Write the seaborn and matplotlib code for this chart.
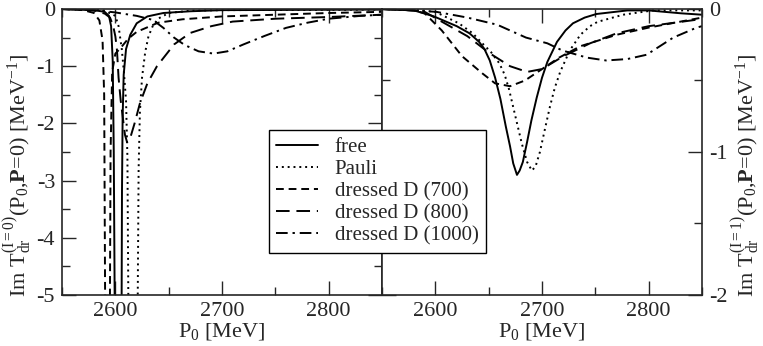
import matplotlib
matplotlib.use("Agg")
import matplotlib.pyplot as plt
from matplotlib.ticker import MultipleLocator
import seaborn as sns

# I=0 panel (left)
free_E0 = [2550, 2570, 2580, 2590, 2594, 2596, 2597.5, 2598.5, 2599.5, 2602, 2605.8, 2606.2, 2606.8, 2607.8, 2610, 2614, 2620, 2630, 2645, 2670, 2700, 2850]
free_0 = [0, -0.01, -0.02, -0.05, -0.12, -0.3, -0.9, -2.5, -5.5, -9, -5.5, -3.2, -1.9, -1.15, -0.7, -0.45, -0.25, -0.13, -0.07, -0.04, -0.02, -0.01]

pauli_E0 = [2550, 2580, 2590, 2600, 2603, 2606, 2608, 2610, 2611.3, 2612.3, 2616.5, 2620.8, 2621.8, 2623, 2625, 2628, 2631, 2635, 2640, 2650, 2670, 2700, 2850]
pauli_0 = [0, -0.01, -0.03, -0.12, -0.3, -0.7, -1.1, -1.6, -2.6, -5.5, -9, -5.5, -2.8, -1.8, -1.2, -0.75, -0.48, -0.3, -0.17, -0.07, -0.03, -0.02, -0.01]

d700_E0 = [2550, 2570, 2580, 2585, 2588, 2589.5, 2590.5, 2592.7, 2594.8, 2595.5, 2597, 2600, 2605, 2612, 2620, 2640, 2663, 2700, 2750, 2800, 2850]
d700_0 = [0, -0.02, -0.07, -0.2, -0.55, -1.5, -5.5, -9, -5.5, -2.5, -1.1, -0.78, -0.68, -0.52, -0.4, -0.24, -0.18, -0.13, -0.1, -0.07, -0.05]

d800_E0 = [2550, 2570, 2580, 2590, 2595, 2598, 2600, 2601.5, 2603, 2605, 2607, 2609, 2611, 2614, 2618, 2623, 2630, 2639, 2655, 2670, 2690, 2710, 2750, 2800, 2850]
d800_0 = [0, -0.01, -0.03, -0.08, -0.15, -0.3, -0.48, -0.72, -1.2, -1.6, -1.9, -2.2, -2.33, -2.25, -2.0, -1.65, -1.3, -1.0, -0.62, -0.42, -0.3, -0.22, -0.17, -0.14, -0.1]

d1000_E0 = [2550, 2580, 2600, 2620, 2635, 2645, 2655, 2665, 2678, 2692, 2705, 2720, 2740, 2760, 2780, 2800, 2830, 2850]
d1000_0 = [0, -0.02, -0.06, -0.12, -0.19, -0.33, -0.5, -0.63, -0.74, -0.78, -0.74, -0.62, -0.47, -0.33, -0.24, -0.17, -0.12, -0.1]

# I=1 panel (right)
free_E1 = [2550, 2580, 2598, 2620, 2632, 2641, 2646, 2651, 2656, 2661, 2666, 2670, 2673, 2676.5, 2679, 2682, 2686, 2690, 2695, 2700, 2705, 2714, 2722, 2729, 2740, 2751, 2780, 2800, 2830, 2850]
free_1 = [0, -0.01, -0.05, -0.12, -0.17, -0.23, -0.28, -0.36, -0.48, -0.63, -0.82, -0.96, -1.08, -1.16, -1.13, -1.07, -0.93, -0.78, -0.62, -0.48, -0.37, -0.23, -0.15, -0.1, -0.06, -0.035, -0.01, -0.01, -0.03, -0.04]

pauli_E1 = [2550, 2580, 2600, 2622, 2635, 2644, 2652, 2660, 2665, 2669, 2675, 2681, 2686, 2690.5, 2694, 2698, 2703, 2707.5, 2712, 2717, 2726, 2736, 2745, 2752, 2776, 2804, 2850]
pauli_1 = [0, -0.005, -0.02, -0.1, -0.17, -0.24, -0.3, -0.38, -0.46, -0.56, -0.75, -0.94, -1.07, -1.13, -1.1, -1.0, -0.83, -0.68, -0.55, -0.44, -0.29, -0.18, -0.12, -0.09, -0.04, -0.01, -0.01]

d700_E1 = [2550, 2580, 2590, 2606, 2625, 2644, 2656, 2670, 2684, 2698, 2716, 2736, 2770, 2800, 2850]
d700_1 = [0, -0.01, -0.03, -0.15, -0.33, -0.45, -0.52, -0.54, -0.5, -0.43, -0.34, -0.26, -0.18, -0.13, -0.06]

d800_E1 = [2550, 2580, 2590, 2604, 2630, 2651, 2670, 2686, 2700, 2720, 2745, 2770, 2800, 2850]
d800_1 = [0, -0.01, -0.02, -0.08, -0.19, -0.31, -0.4, -0.44, -0.42, -0.33, -0.24, -0.17, -0.12, -0.07]

d1000_E1 = [2550, 2580, 2601, 2630, 2658, 2685, 2705, 2719, 2742, 2760, 2780, 2798, 2823, 2845, 2850]
d1000_1 = [0, -0.01, -0.02, -0.06, -0.11, -0.2, -0.24, -0.29, -0.34, -0.36, -0.35, -0.32, -0.2, -0.13, -0.12]

labels = ["free", "Pauli", "dressed D (700)", "dressed D (800)", "dressed D (1000)"]
styles = ["-", (0, (1, 2)), (0, (4, 2.5)), (0, (7, 3.5)), (0, (6, 2.5, 1.2, 2.5))]

sns.set_style("ticks")
plt.rcParams["font.family"] = ["Liberation Serif", "DejaVu Serif"]
plt.rcParams["mathtext.fontset"] = "custom"
plt.rcParams["mathtext.rm"] = "Liberation Serif"
plt.rcParams["mathtext.it"] = "Liberation Serif:italic"
plt.rcParams["mathtext.bf"] = "Liberation Serif:bold"
plt.rcParams["axes.unicode_minus"] = False

fig = plt.figure(figsize=(7.63, 3.46), dpi=100)
ax0 = fig.add_axes([0.0813, 0.1474, 0.4194, 0.8266])
ax1 = fig.add_axes([0.5007, 0.1474, 0.4194, 0.8266])

left = [(free_E0, free_0), (pauli_E0, pauli_0), (d700_E0, d700_0), (d800_E0, d800_0), (d1000_E0, d1000_0)]
right = [(free_E1, free_1), (pauli_E1, pauli_1), (d700_E1, d700_1), (d800_E1, d800_1), (d1000_E1, d1000_1)]

for (x, y), lab, ls in zip(left, labels, styles):
    sns.lineplot(x=x, y=y, ax=ax0, color="black", linewidth=1.4, linestyle=ls, label=lab, sort=False, legend=False)
for (x, y), lab, ls in zip(right, labels, styles):
    sns.lineplot(x=x, y=y, ax=ax1, color="black", linewidth=1.4, linestyle=ls, sort=False, legend=False)

for ax in (ax0, ax1):
    ax.set_xlim(2550, 2850)
    ax.xaxis.set_major_locator(MultipleLocator(100))
    ax.xaxis.set_minor_locator(MultipleLocator(50))
    ax.yaxis.set_minor_locator(MultipleLocator(0.5))
    ax.tick_params(which="both", direction="in", top=True, bottom=True, left=True, right=True, labelsize=16, width=1)
    ax.tick_params(which="major", length=10, pad=5)
    ax.tick_params(which="minor", length=6)
    for s in ax.spines.values():
        s.set_linewidth(1.2)
    ax.set_xlabel(r"P$_0$ [MeV]", fontsize=16, labelpad=0)

ax0.set_ylim(-5, 0)
ax0.yaxis.set_major_locator(MultipleLocator(1))
ax0.set_ylabel(r"Im T$_{\rm dr}^{\rm (I=0)}$(P$_0$,$\mathbf{P}$=0) [MeV$^{-1}$]", fontsize=16, labelpad=1)
ax0.yaxis.label.set_y(0.42)

ax1.set_ylim(-2, 0)
ax1.yaxis.set_major_locator(MultipleLocator(1))
ax1.tick_params(labelleft=False, labelright=True)
ax1.yaxis.set_label_position("right")
ax1.set_ylabel(r"Im T$_{\rm dr}^{\rm (I=1)}$(P$_0$,$\mathbf{P}$=0) [MeV$^{-1}$]", fontsize=16, labelpad=2)
ax1.yaxis.label.set_y(0.42)

handles, labs = ax0.get_legend_handles_labels()
leg = fig.legend(handles, labs, loc="upper left", bbox_to_anchor=(0.3526, 0.624),
                 fontsize=15, frameon=True, fancybox=False, framealpha=1,
                 edgecolor="black", handlelength=2.0, labelspacing=0.12, borderpad=0.35,
                 handletextpad=0.8, borderaxespad=0)
leg.get_frame().set_linewidth(1.0)

fig.savefig("out.png", dpi=100)
